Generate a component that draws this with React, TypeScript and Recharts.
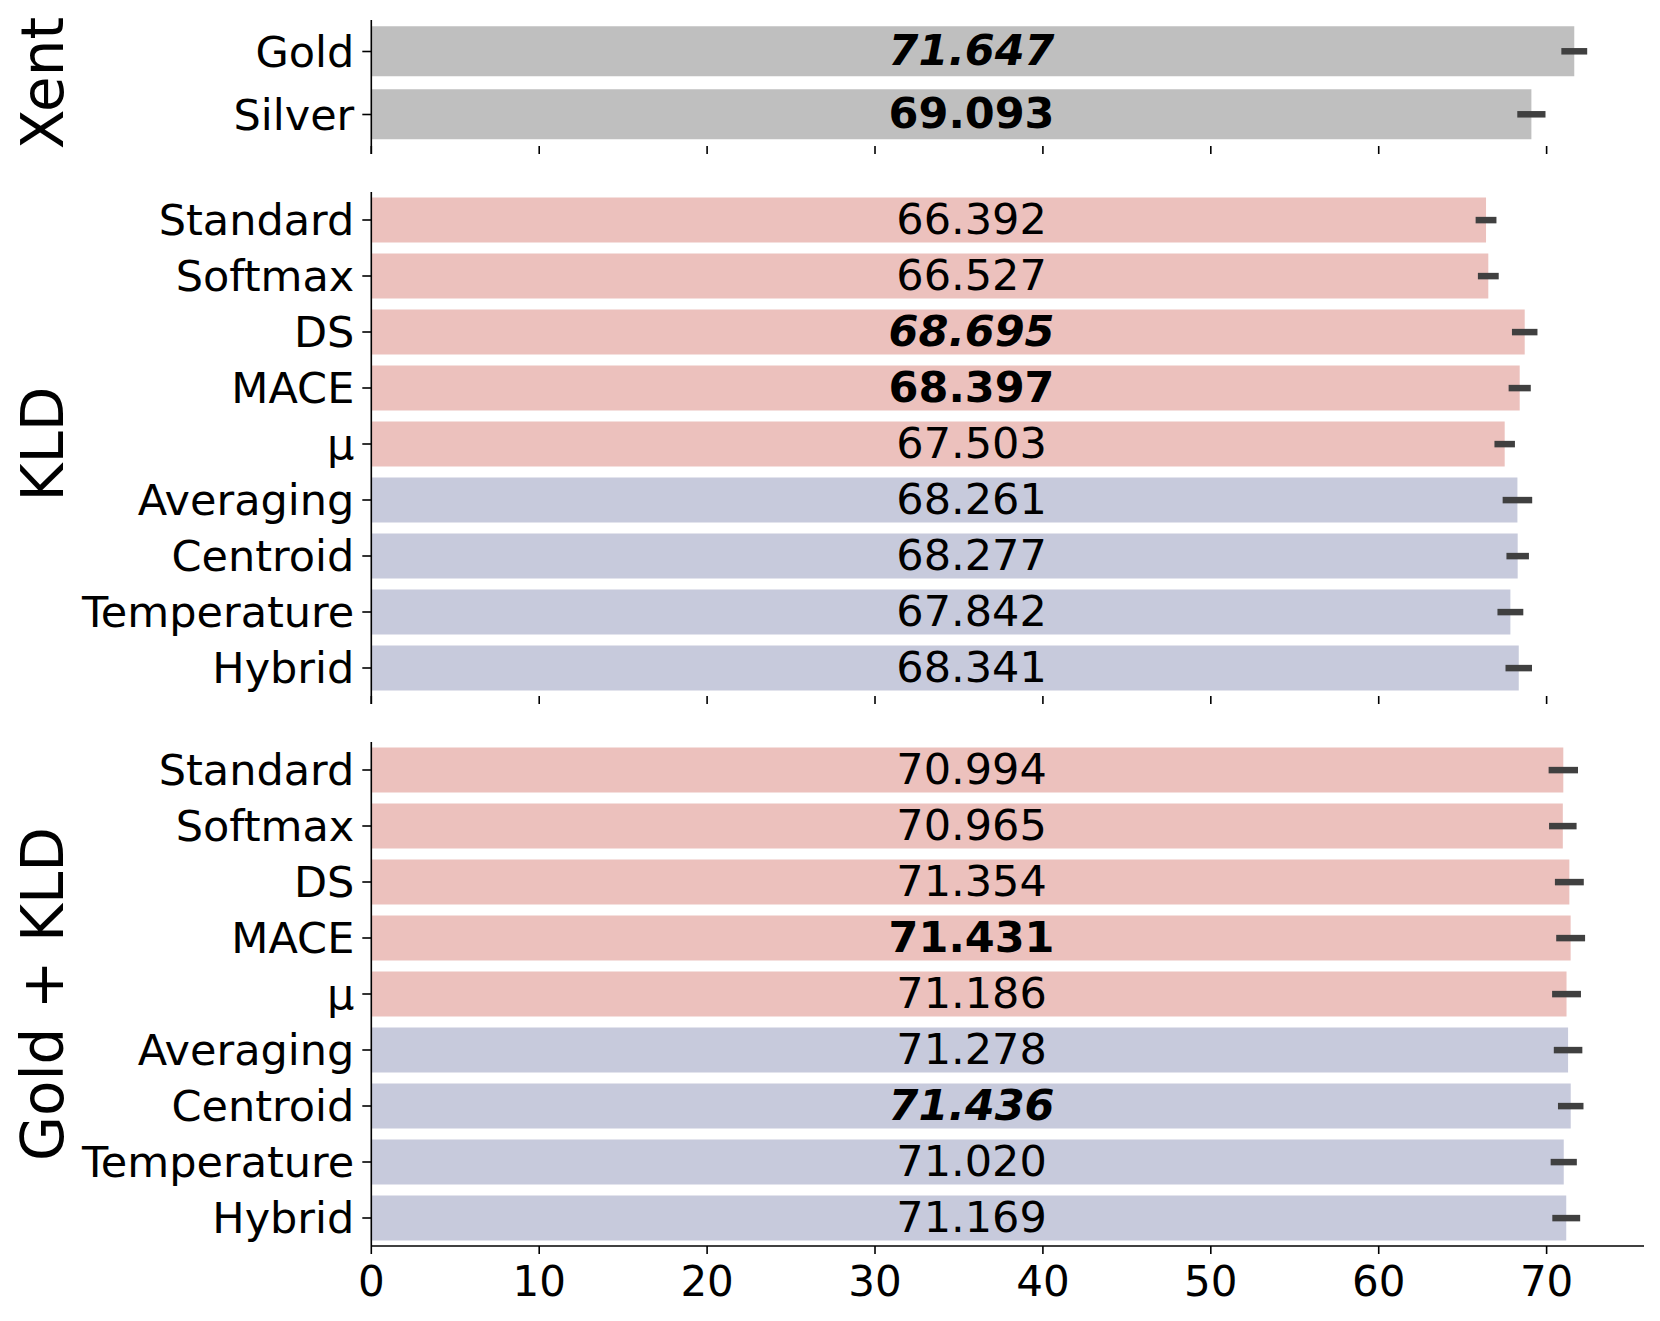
import React from 'react';
import { BarChart, Bar, XAxis, YAxis, ErrorBar, Cell, LabelList } from 'recharts';

// ---- data ----
const XENT_CATS = ['Gold', 'Silver'];
const XENT_SCORES = [71.647, 69.093];
const XENT_ERR = [0.77, 0.84];

const METHOD_CATS = ['Standard', 'Softmax', 'DS', 'MACE', 'μ', 'Averaging', 'Centroid', 'Temperature', 'Hybrid'];
const METHOD_GROUP = ['single', 'single', 'single', 'single', 'single', 'combo', 'combo', 'combo', 'combo'];

const KLD_SCORES = [66.392, 66.527, 68.695, 68.397, 67.503, 68.261, 68.277, 67.842, 68.341];
const KLD_ERR = [0.62, 0.62, 0.76, 0.66, 0.61, 0.88, 0.67, 0.77, 0.79];

const GOLD_KLD_SCORES = [70.994, 70.965, 71.354, 71.431, 71.186, 71.278, 71.436, 71.02, 71.169];
const GOLD_KLD_ERR = [0.875, 0.82, 0.86, 0.86, 0.86, 0.85, 0.76, 0.78, 0.83];

const X_TICKS = [0, 10, 20, 30, 40, 50, 60, 70];
const X_MAX = 75.8;
const LABEL_X = 35.75; // data-unit x where the value labels are centred

// ---- styling ----
const FONT = '"DejaVu Sans", Verdana, sans-serif';
const COLORS: Record<string, string> = { xent: '#bfbfbf', single: '#ecc1bd', combo: '#c7cadc' };
const ERR_COLOR = '#404040';
const CHART_W = 1652;
const AXIS_W = 363.3;
const VALUE_FS = 43;

type Row = { name: string; score: number; err: number; group: string };

function makeRows(cats: string[], scores: number[], errs: number[], groups: string[]): Row[] {
  return cats.map((name, i) => ({ name, score: scores[i], err: errs[i], group: groups[i] }));
}

// best score -> bold italic, runner-up -> bold
function emphasis(scores: number[]) {
  const order = scores.map((s, i) => i).sort((a, b) => scores[b] - scores[a]);
  return scores.map((_, i) => (i === order[0] ? 'best' : i === order[1] ? 'second' : ''));
}

function valueLabel(rows: Row[], emph: string[]) {
  return (props: any) => {
    const { x, y, width, height, index } = props;
    const row = rows[index];
    const cx = x + (LABEL_X * width) / row.score;
    const cy = y + height / 2;
    const e = emph[index];
    return (
      <text
        x={cx}
        y={cy + VALUE_FS * 0.315}
        textAnchor="middle"
        fontFamily={FONT}
        fontSize={VALUE_FS}
        fill="#000"
        fontWeight={e ? 'bold' : 'normal'}
        fontStyle={e === 'best' ? 'italic' : 'normal'}
      >
        {row.score.toFixed(3)}
      </text>
    );
  };
}

function panelTitle(title: string, padBottom: number) {
  return (props: any) => {
    const vb = props.viewBox || {};
    const cy = vb.y + (vb.height - padBottom) / 2;
    const tx = 55;
    return (
      <text
        x={tx}
        y={cy}
        transform={`rotate(-90 ${tx} ${cy})`}
        textAnchor="middle"
        fontFamily={FONT}
        fontSize={58}
        fill="#000"
      >
        {title}
      </text>
    );
  };
}

const noTickText = () => <g />;

type PanelProps = { title: string; rows: Row[]; top: number; bandArea: number; isBottom?: boolean };

function Panel({ title, rows, top, bandArea, isBottom }: PanelProps) {
  const padBottom = isBottom ? 0 : 8;
  const plotH = bandArea + padBottom;
  const xAxisH = isBottom ? 60 : 0;
  const height = 12 + plotH + xAxisH + 4;
  const emph = emphasis(rows.map((r) => r.score));
  return (
    <div style={{ position: 'absolute', left: 0, top, width: CHART_W, height }}>
      <BarChart
        width={CHART_W}
        height={height}
        data={rows}
        layout="vertical"
        margin={{ top: 12, right: 16, left: 0, bottom: 4 }}
        barCategoryGap="10%"
      >
        {isBottom ? (
          <XAxis
            type="number"
            domain={[0, X_MAX]}
            ticks={X_TICKS}
            allowDataOverflow
            height={xAxisH}
            tickSize={8}
            tickMargin={12}
            axisLine={{ stroke: '#000', strokeWidth: 1.6 }}
            tickLine={{ stroke: '#000', strokeWidth: 1.6 }}
            tick={{ fontSize: 42, fill: '#000', fontFamily: FONT }}
          />
        ) : (
          <XAxis
            type="number"
            domain={[0, X_MAX]}
            ticks={X_TICKS}
            allowDataOverflow
            height={1}
            mirror
            tickSize={8}
            tick={noTickText}
            axisLine={false}
            tickLine={{ stroke: '#000', strokeWidth: 1.6 }}
          />
        )}
        <YAxis
          type="category"
          dataKey="name"
          width={AXIS_W}
          interval={0}
          padding={{ top: 0, bottom: padBottom }}
          tickSize={9}
          tickMargin={8}
          axisLine={{ stroke: '#000', strokeWidth: 1.6 }}
          tickLine={{ stroke: '#000', strokeWidth: 1.6 }}
          tick={{ fontSize: 43, fill: '#000', fontFamily: FONT }}
          label={panelTitle(title, padBottom)}
        />
        <Bar dataKey="score" isAnimationActive={false}>
          {rows.map((r, i) => (
            <Cell key={`c-${i}`} fill={COLORS[r.group]} />
          ))}
          <ErrorBar
            dataKey="err"
            direction="x"
            width={0}
            stroke={ERR_COLOR}
            strokeWidth={6.5}
            isAnimationActive={false}
          />
          <LabelList dataKey="score" content={valueLabel(rows, emph)} />
        </Bar>
      </BarChart>
    </div>
  );
}

const xentRows = makeRows(XENT_CATS, XENT_SCORES, XENT_ERR, ['xent', 'xent']);
const kldRows = makeRows(METHOD_CATS, KLD_SCORES, KLD_ERR, METHOD_GROUP);
const goldKldRows = makeRows(METHOD_CATS, GOLD_KLD_SCORES, GOLD_KLD_ERR, METHOD_GROUP);

export default function App() {
  return (
    <div style={{ position: 'relative', width: CHART_W, height: 1305, background: '#fff', fontFamily: FONT }}>
      <Panel title="Xent" rows={xentRows} top={0} bandArea={126} />
      <Panel title="KLD" rows={kldRows} top={171.7} bandArea={504} />
      <Panel title="Gold + KLD" rows={goldKldRows} top={721.7} bandArea={504} isBottom />
    </div>
  );
}
